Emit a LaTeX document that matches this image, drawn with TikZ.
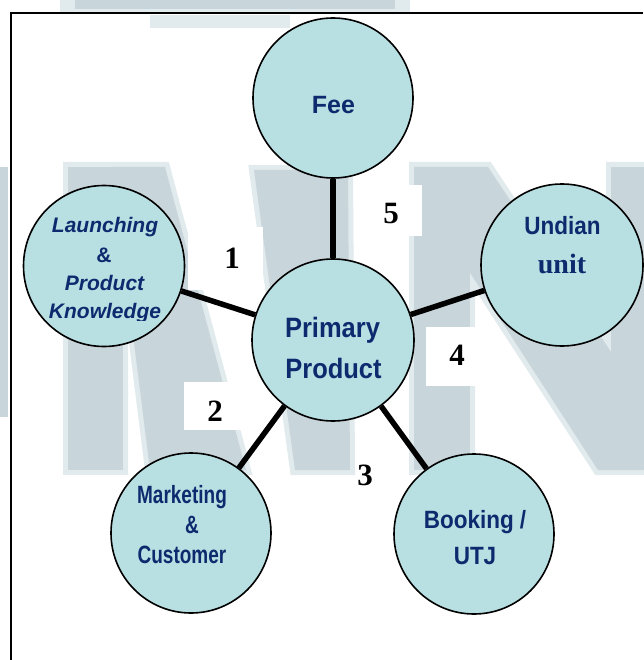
\documentclass[tikz,border=0pt]{standalone}
\usepackage{fontspec}
\setmainfont{Liberation Serif}
\newfontfamily\sansN{Liberation Sans}
\newfontfamily\sansP{Liberation Sans}[FakeStretch=0.91]
\newfontfamily\sansM{Liberation Sans}[FakeStretch=0.76]
\newfontfamily\sansB{Liberation Sans}[FakeStretch=0.9]

\definecolor{bubblefill}{RGB}{184,223,226}
\definecolor{ink}{RGB}{14,42,110}
\definecolor{wm}{RGB}{200,213,219}
\definecolor{wmedge}{RGB}{225,234,237}

\begin{document}
\begin{tikzpicture}[x=1pt,y=-1pt,
  bubble/.style={circle, draw=black, line width=1.6pt, fill=bubblefill,
                 inner sep=0pt, minimum size=160pt},
  link/.style={line width=5.5pt},
  numbox/.style={fill=white},
  numlabel/.style={font=\bfseries\fontsize{31}{31}\selectfont, inner sep=0pt},
  captext/.style={text=ink, inner sep=0pt, anchor=base},
  letteredge/.style={draw=wmedge, line width=10pt, line join=miter},
  lettercore/.style={fill=wm},
]
\useasboundingbox (0,0) rectangle (643,660);
\fill[white] (0,0) rectangle (643,660);

% faded lettering in the background: soft rim first, solid core on top
\fill[wmedge] (60,0) rectangle (410,13);
\fill[wmedge] (150,15) rectangle (290,28);
\path[letteredge] (68,167) rectangle (123,470)
  (112,167) -- (165,167) -- (246,470) -- (150,470) -- cycle
  (254,170) -- (348,170) -- (350,470) -- (295,470) -- cycle
  (414,167) rectangle (470,470)
  (414,167) -- (488,167) -- (643,400) -- (643,470) -- (598,470)
            -- (465,265) -- (414,230) -- cycle
  (611,167) rectangle (650,470);
\fill[wm] (75,0) rectangle (395,9);
\fill[wm] (0,167) rectangle (8,417);
\path[lettercore] (68,167) rectangle (123,470);
\path[lettercore] (112,167) -- (165,167) -- (246,470) -- (150,470) -- cycle;
\path[lettercore] (254,170) -- (348,170) -- (350,470) -- (295,470) -- cycle;
\path[lettercore] (414,167) rectangle (470,470);
\path[lettercore] (414,167) -- (488,167) -- (643,400) -- (643,470) -- (598,470)
          -- (465,265) -- (414,230) -- cycle;
\path[lettercore] (611,167) rectangle (650,470);

% white boxes behind the step numbers
\fill[numbox] (188,227) rectangle (263,290);
\fill[numbox] (184,382) rectangle (246,430);
\fill[numbox] (360,185) rectangle (422,236);
\fill[numbox] (426,327) rectangle (490,386);

% outer frame
\draw[line width=2pt] (643,13) -- (11,13) -- (11,660);

% circles
\node[bubble, minimum size=162pt] (prim) at (333,340) {};
\node[bubble] (fee) at (333,98) {};
\node[bubble, minimum size=161pt] (launch) at (104,266) {};
\node[bubble, minimum size=162pt] (undian) at (562,265) {};
\node[bubble] (mkt) at (191,533) {};
\node[bubble] (book) at (474,534) {};

% connectors
\draw[link] (prim) -- (fee);
\draw[link] (prim) -- (launch);
\draw[link] (prim) -- (undian);
\draw[link] (prim) -- (mkt);
\draw[link] (prim) -- (book);

% circle texts
\node[captext, font=\sansN\bfseries\fontsize{25}{25}\selectfont] (feetext) at (333.5,114) {Fee};

\node[captext, font=\sansP\bfseries\fontsize{28}{28}\selectfont] (primtexta) at (332.5,337) {Primary};
\node[captext, font=\sansP\bfseries\fontsize{28}{28}\selectfont] (primtextb) at (333.5,378) {Product};

\node[captext, font=\sansN\bfseries\itshape\fontsize{21}{21}\selectfont] (launchtexta) at (105,232) {Launching};
\node[captext, font=\sansN\bfseries\fontsize{21}{21}\selectfont] (launchtextb) at (104,262) {\&};
\node[captext, font=\sansN\bfseries\itshape\fontsize{21}{21}\selectfont] (launchtextc) at (104.5,290) {Product};
\begin{scope}
  \clip (30,295) rectangle (180,320);
  \node[captext, font=\sansN\bfseries\itshape\fontsize{21}{21}\selectfont] (launchtextd) at (105,318) {Knowledge};
\end{scope}

\node[captext, font=\sansB\bfseries\fontsize{25}{25}\selectfont] (undiantexta) at (562.5,234) {Undian};
\node[captext, font=\bfseries\fontsize{28}{28}\selectfont] (undiantextb) at (562,273) {unit};

\node[captext, font=\sansM\bfseries\fontsize{25}{25}\selectfont] (mkttexta) at (182,503) {Marketing};
\node[captext, font=\sansM\bfseries\fontsize{25}{25}\selectfont] (mkttextb) at (192,533) {\&};
\node[captext, font=\sansM\bfseries\fontsize{25}{25}\selectfont] (mkttextc) at (182,563) {Customer};

\node[captext, font=\sansB\bfseries\fontsize{25}{25}\selectfont] (booktexta) at (475,528) {Booking /};
\node[captext, font=\sansB\bfseries\fontsize{25}{25}\selectfont] (booktextb) at (475,564) {UTJ};

% step numbers
\node[numlabel] (n1) at (232,258) {1};
\node[numlabel] (n2) at (215,411) {2};
\node[numlabel] (n3) at (365,475) {3};
\node[numlabel] (n4) at (457,355) {4};
\node[numlabel] (n5) at (391,214) {5};
\end{tikzpicture}
\end{document}
